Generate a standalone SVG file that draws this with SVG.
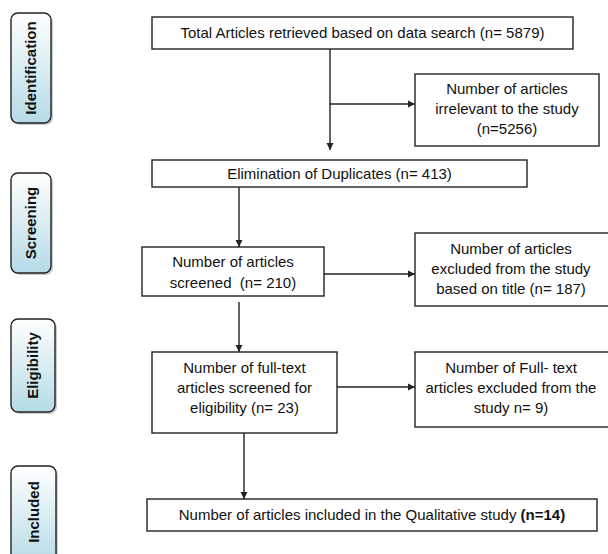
<svg xmlns="http://www.w3.org/2000/svg" width="608" height="554" viewBox="0 0 608 554">
<style>
.box{fill:#fff;stroke:#222;stroke-width:1.4}
.t{font-family:"Liberation Sans",Arial,sans-serif;font-size:15px;fill:#111;text-anchor:middle}
.lab{fill:url(#g);stroke:#222;stroke-width:1.4}
.sh{fill:#999;opacity:0.5}
.lt{font-family:"Liberation Sans",Arial,sans-serif;font-size:15px;font-weight:bold;fill:#111;text-anchor:middle}
.c{stroke:#222;stroke-width:1.4;fill:none}
</style>
<defs>
<linearGradient id="g" x1="0" y1="0" x2="0" y2="1">
<stop offset="0" stop-color="#ffffff"/>
<stop offset="1" stop-color="#b5dbe7"/>
</linearGradient>
<marker id="a" markerWidth="8" markerHeight="8" refX="7" refY="4" orient="auto" markerUnits="userSpaceOnUse">
<path d="M0,0.5 L7,4 L0,7.5 Z" fill="#222"/>
</marker>
</defs>

<g id="label-identification">
<rect class="sh" x="13" y="15" width="40" height="110" rx="7"/>
<rect class="lab" x="11" y="13" width="40" height="110" rx="7"/>
<text class="lt" transform="translate(36,68) rotate(-90)">Identification</text>
</g>
<g id="label-screening">
<rect class="sh" x="13" y="175" width="40" height="100" rx="7"/>
<rect class="lab" x="11" y="173" width="40" height="100" rx="7"/>
<text class="lt" transform="translate(36,223) rotate(-90)">Screening</text>
</g>
<g id="label-eligibility">
<rect class="sh" x="13" y="321" width="44" height="93" rx="7"/>
<rect class="lab" x="11" y="319" width="44" height="93" rx="7"/>
<text class="lt" transform="translate(38,365.5) rotate(-90)">Eligibility</text>
</g>
<g id="label-included">
<rect class="sh" x="13" y="468" width="45" height="100" rx="7"/>
<rect class="lab" x="11" y="466" width="45" height="100" rx="7"/>
<text class="lt" transform="translate(38.5,512) rotate(-90)">Included</text>
</g>

<g id="connectors">
<path class="c" d="M330,49 V150" marker-end="url(#a)"/>
<path class="c" d="M330,104 H415" marker-end="url(#a)"/>
<path class="c" d="M239,187 V247" marker-end="url(#a)"/>
<path class="c" d="M324,274 H415" marker-end="url(#a)"/>
<path class="c" d="M239,302 V352" marker-end="url(#a)"/>
<path class="c" d="M337,387 H415" marker-end="url(#a)"/>
<path class="c" d="M244,433 V499" marker-end="url(#a)"/>
</g>

<g id="total">
<rect class="box" x="152" y="17" width="421" height="32"/>
<text class="t" x="362.5" y="38">Total Articles retrieved based on data search (n= 5879)</text>
</g>
<g id="irrelevant">
<rect class="box" x="415" y="74" width="184" height="72"/>
<text class="t" x="507" y="94">Number of articles</text>
<text class="t" x="507" y="114">irrelevant to the study</text>
<text class="t" x="507" y="134">(n=5256)</text>
</g>
<g id="duplicates">
<rect class="box" x="152" y="160" width="375" height="27"/>
<text class="t" x="339.5" y="179">Elimination of Duplicates (n= 413)</text>
</g>
<g id="screened">
<rect class="box" x="142" y="247" width="182" height="49"/>
<text class="t" x="233" y="267">Number of articles</text>
<text class="t" x="233" y="288" xml:space="preserve">screened  (n= 210)</text>
</g>
<g id="excluded-title">
<rect class="box" x="415" y="233" width="196" height="73"/>
<text class="t" x="511" y="254">Number of articles</text>
<text class="t" x="511" y="274">excluded from the study</text>
<text class="t" x="511" y="294">based on title (n= 187)</text>
</g>
<g id="fulltext">
<rect class="box" x="152" y="352" width="185" height="81"/>
<text class="t" x="244.5" y="373">Number of full-text</text>
<text class="t" x="244.5" y="393">articles screened for</text>
<text class="t" x="244.5" y="413">eligibility (n= 23)</text>
</g>
<g id="excluded-fulltext">
<rect class="box" x="415" y="352" width="196" height="75"/>
<text class="t" x="511" y="373">Number of Full- text</text>
<text class="t" x="511" y="393">articles excluded from the</text>
<text class="t" x="511" y="413">study n= 9)</text>
</g>
<g id="included">
<rect class="box" x="147" y="499" width="450" height="32"/>
<text class="t" x="372" y="520">Number of articles included in the Qualitative study <tspan font-weight="bold">(n=14)</tspan></text>
</g>
</svg>
